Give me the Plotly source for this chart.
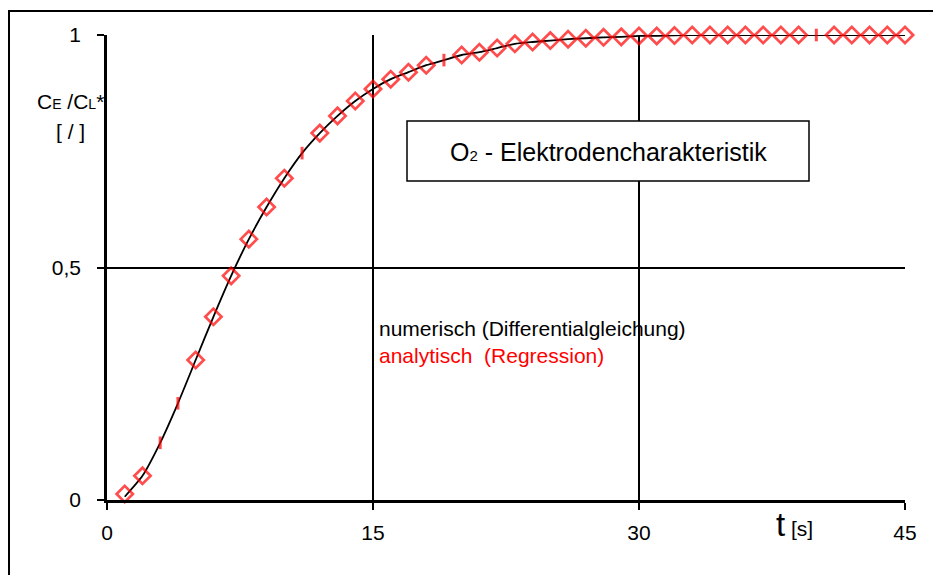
import plotly.graph_objects as go

# Zeit t [s]
t_values = list(range(1, 46))

# analytische Lösung (Regression), C_E / C_L*
analytisch = [
    0.013, 0.052, 0.123, 0.208, 0.301, 0.394, 0.482, 0.561, 0.630, 0.692,
    0.746, 0.789, 0.826, 0.858, 0.884, 0.905, 0.920, 0.935, 0.946, 0.957,
    0.963, 0.972, 0.981, 0.985, 0.988, 0.991, 0.993, 0.995, 0.996, 0.998,
    0.998, 0.999, 1.000, 1.000, 1.000, 1.000, 1.000, 1.000, 1.000, 1.000,
    1.000, 1.000, 1.000, 1.000, 1.000,
]

# numerische Lösung (Differentialgleichung)
numerisch = [
    0.007, 0.052, 0.123, 0.208, 0.301, 0.394, 0.482, 0.561, 0.630, 0.692,
    0.746, 0.789, 0.826, 0.858, 0.884, 0.905, 0.920, 0.935, 0.946, 0.957,
    0.963, 0.972, 0.981, 0.985, 0.988, 0.991, 0.993, 0.995, 0.996, 0.998,
    0.998, 0.999, 1.000, 1.000, 1.000, 1.000, 1.000, 1.000, 1.000, 1.000,
    1.000, 1.000, 1.000, 1.000, 1.000,
]

# Zeitpunkte, deren Marker nur als kurzer Strich erscheinen
strich_t = [3, 4, 11, 19, 40]

x_ticks = [0, 15, 30, 45]
x_ticklabels = ["0", "15", "30", "45"]
y_ticks = [0, 0.5, 1]
y_ticklabels = ["0", "0,5", "1"]

FONT = "Liberation Sans, Arial, sans-serif"
RED = "#ff0000"

symbols = ["line-ns" if t in strich_t else "diamond-open" for t in t_values]
sizes = [9 if t in strich_t else 12.5 for t in t_values]
widths = [3 if t in strich_t else 2.7 for t in t_values]

fig = go.Figure()

fig.add_trace(go.Scatter(
    x=t_values, y=numerisch, mode="lines",
    line=dict(color="black", width=1.8, shape="spline", smoothing=0.6),
    name="numerisch (Differentialgleichung)", showlegend=False,
    cliponaxis=False,
))

fig.add_trace(go.Scatter(
    x=t_values, y=analytisch, mode="markers",
    marker=dict(symbol=symbols, size=sizes, color=RED,
                line=dict(color=RED, width=widths)),
    name="analytisch (Regression)", showlegend=False,
    cliponaxis=False,
))

L, R, T, B = 107, 28, 35, 75
W, H = 933, 575
pw, ph = W - L - R, H - T - B


def px(x):
    return (x - L) / pw


def py(y):
    return (H - B - y) / ph


fig.update_layout(
    width=W, height=H,
    margin=dict(l=L, r=R, t=T, b=B, pad=0),
    paper_bgcolor="white", plot_bgcolor="white",
    font=dict(family=FONT, size=21, color="black"),
    separators=",.",
    showlegend=False,
)

fig.update_xaxes(
    range=[0, 45], tickvals=x_ticks, ticktext=x_ticklabels,
    showgrid=True, gridcolor="black", gridwidth=1.5,
    showline=True, linecolor="black", linewidth=2.5,
    zeroline=False, ticks="outside", ticklen=7, tickwidth=1.5,
    tickcolor="black", ticklabelstandoff=5,
    tickfont=dict(size=21, family=FONT, color="black"),
)
fig.update_yaxes(
    range=[0, 1], tickvals=y_ticks, ticktext=y_ticklabels,
    showgrid=True, gridcolor="black", gridwidth=2,
    showline=True, linecolor="black", linewidth=2.5,
    zeroline=False, ticks="outside", ticklen=7, tickwidth=1.5,
    tickcolor="black", ticklabelstandoff=12,
    tickfont=dict(size=21, family=FONT, color="black"),
)

shapes = [
    # äußerer Rahmen
    dict(type="rect", xref="paper", yref="paper",
         x0=px(9), x1=px(945), y0=py(590), y1=py(11),
         line=dict(color="black", width=2), fillcolor="rgba(0,0,0,0)",
         layer="below"),
    # Titelkasten
    dict(type="rect", xref="paper", yref="paper",
         x0=px(407), x1=px(809), y0=py(181), y1=py(121),
         line=dict(color="black", width=1.5), fillcolor="white",
         layer="above"),
]
fig.update_layout(shapes=shapes)

small = "<span style='font-size:14px'>{}</span>"
annotations = [
    dict(text="O<span style='font-size:15px'>2</span> - Elektrodencharakteristik",
         x=px(608), y=py(152), font=dict(size=25)),
    dict(text="C" + small.format("E") + " /C" + small.format("L") + "*",
         x=px(70), y=py(101), font=dict(size=21)),
    dict(text="[ / ]", x=px(70), y=py(131), font=dict(size=21)),
    dict(text="numerisch (Differentialgleichung)", x=px(377), y=py(328),
         xanchor="left", font=dict(size=21, color="black")),
    dict(text="analytisch  (Regression)", x=px(377), y=py(355),
         xanchor="left", font=dict(size=21, color=RED)),
    dict(text="<span style='font-size:33px'>t</span> [s]",
         x=px(774), y=py(524), xanchor="left", font=dict(size=21)),
]
for a in annotations:
    a.setdefault("xanchor", "center")
    a.update(xref="paper", yref="paper", showarrow=False, yanchor="middle")
fig.update_layout(annotations=annotations)

fig.write_html("out.html")
